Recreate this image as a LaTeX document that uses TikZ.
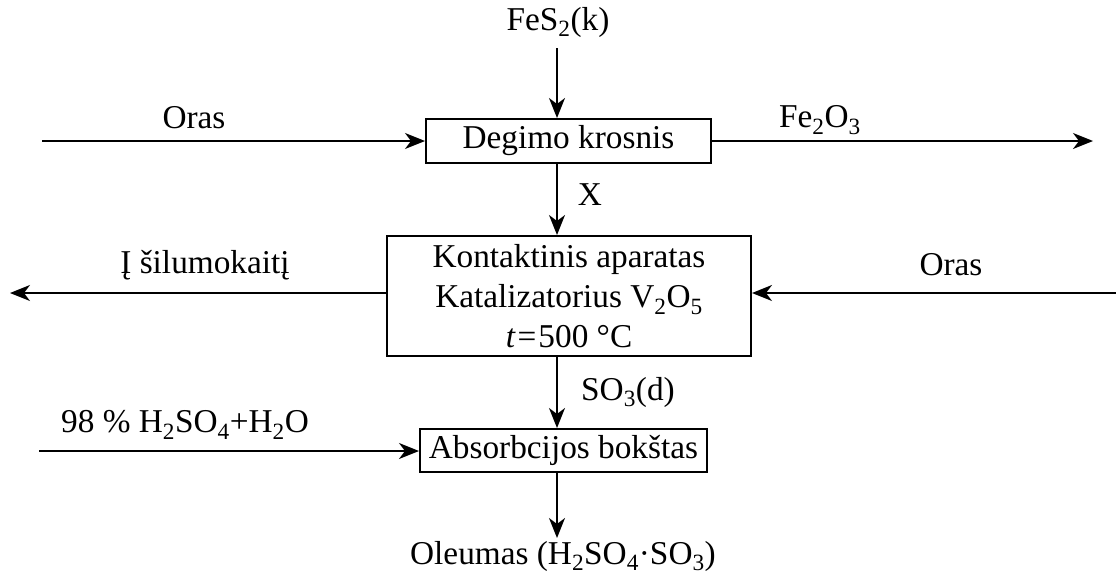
\documentclass[tikz,border=0pt]{standalone}
\usepackage{fontspec}
\setmainfont{Liberation Serif}
\usetikzlibrary{arrows.meta}
\begin{document}
\begin{tikzpicture}[x=1pt,y=-1pt,
  every node/.style={font=\fontsize{33.3}{40}\selectfont, inner sep=0pt},
  procbox/.style={draw, line width=2pt, align=center},
  arr/.style={line width=1.8pt, -{Stealth[length=20pt,width=16pt,inset=6pt]}},
  lbl/.style={anchor=center}]
\useasboundingbox (0,0) rectangle (1116,576);
% boxes
\node[procbox, minimum width=285pt, minimum height=44pt] (degimo) at (568.5,141) {Degimo krosnis};
\node[procbox, minimum width=364pt, minimum height=120pt, text depth=0pt] (kontakt) at (569,296)
  {Kontaktinis aparatas\\Katalizatorius V\textsubscript{2}O\textsubscript{5}\\\textit{t}\kern2pt=\kern2pt500 °C};
\node[procbox, minimum width=287pt, minimum height=43pt] (absorb) at (563.5,450.5) {Absorbcijos bokštas};
% labels
\node[lbl] (fes) at (558,22) {FeS\textsubscript{2}(k)};
\node[lbl] (oras1) at (194,118) {Oras};
\node[lbl] (fe2o3) at (820,120) {Fe\textsubscript{2}O\textsubscript{3}};
\node[lbl] (x) at (590,195) {X};
\node[lbl] (silum) at (205,265) {Į šilumokaitį};
\node[lbl] (oras2) at (951,265) {Oras};
\node[lbl] (so3) at (628,392) {SO\textsubscript{3}(d)};
\node[lbl] (h2so4) at (185,425) {98 \% H\textsubscript{2}SO\textsubscript{4}+H\textsubscript{2}O};
\node[lbl] (oleum) at (563,556) {Oleumas (H\textsubscript{2}SO\textsubscript{4}·SO\textsubscript{3})};
% free ends
\coordinate (col) at (557,0);
\coordinate (orasIn) at (42,141);
\coordinate (fe2o3Out) at (1093,141);
\coordinate (silumOut) at (10,293);
\coordinate (orasIn2) at (1116,293);
\coordinate (h2so4In) at (39,451);
\coordinate (oleumTop) at (557,538);
% connectors
\draw[arr] (557,48) -- (degimo.north -| col);
\draw[arr] (orasIn) -- (degimo.west);
\draw[arr] (degimo.east) -- (fe2o3Out);
\draw[arr] (degimo.south -| col) -- (kontakt.north -| col);
\draw[arr] (kontakt.west |- silumOut) -- (silumOut);
\draw[arr] (orasIn2) -- (orasIn2 -| kontakt.east);
\draw[arr] (kontakt.south -| col) -- (absorb.north -| col);
\draw[arr] (h2so4In) -- (h2so4In -| absorb.west);
\draw[arr] (absorb.south -| col) -- (oleumTop);
\end{tikzpicture}
\end{document}
